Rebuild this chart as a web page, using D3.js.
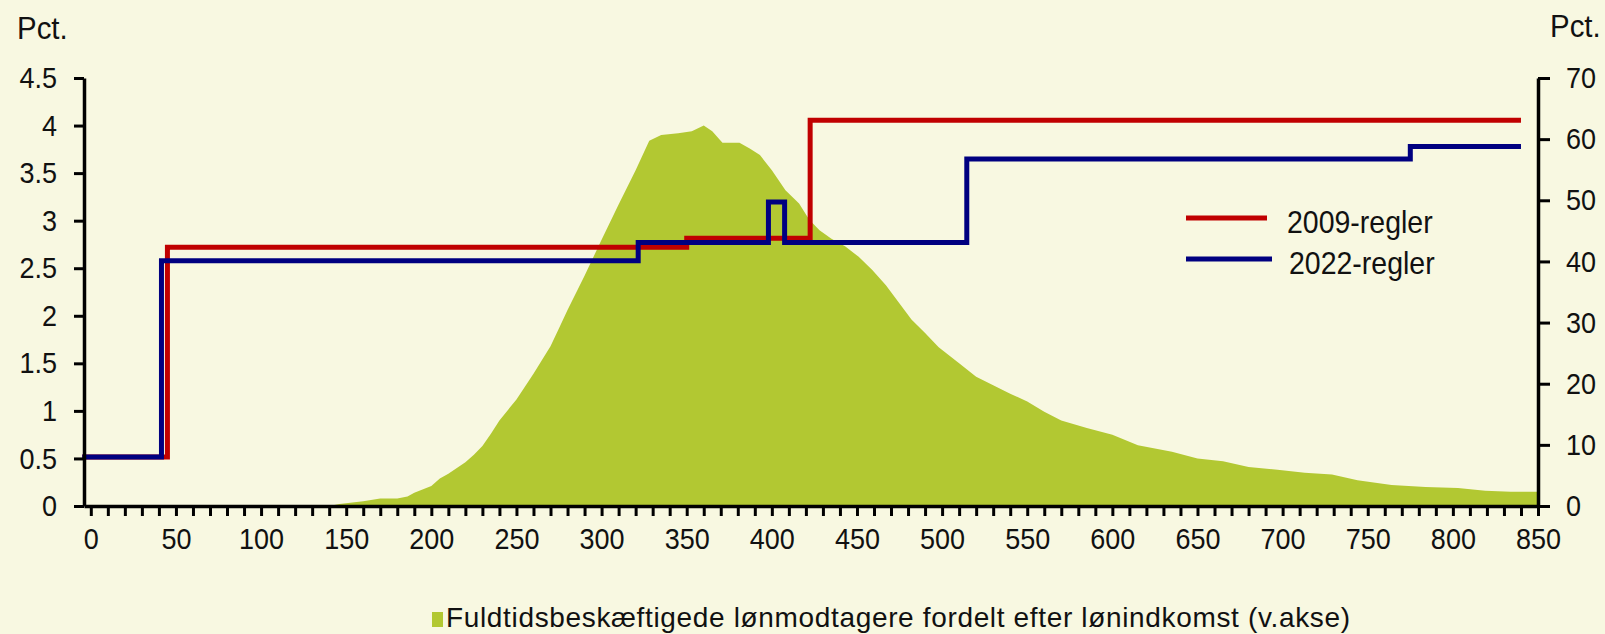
<!DOCTYPE html>
<html>
<head>
<meta charset="utf-8">
<script src="https://cdn.jsdelivr.net/npm/d3@7"></script>
<style>
body { margin: 0; background: #f8f8e1; }
svg { display: block; }
text { font-family: "Liberation Sans", Arial, sans-serif; fill: #111; }
</style>
</head>
<body>
<svg id="viz1"></svg>
<script>
//income (1000 kr.) and share of full-time employees, left axis
var incomeX = [140,146,160,170,180,186,190,200,205,210,220,225,230,235,240,250,260,270,275,280,290,300,310,320,328,335,345,353,360,365,371,381,387,393,400,408,416,422,428,435,443,451,459,467,475,482,490,498,510,520,530,540,550,560,570,585,600,615,635,650,665,680,697,713,729,744,764,784,803,819,834,850]
var share = [0,0.02,0.05,0.08,0.08,0.10,0.14,0.21,0.29,0.34,0.46,0.54,0.63,0.76,0.90,1.12,1.39,1.68,1.87,2.06,2.42,2.80,3.17,3.53,3.84,3.90,3.92,3.94,4.00,3.94,3.82,3.82,3.76,3.69,3.53,3.32,3.18,3.01,2.90,2.81,2.73,2.62,2.48,2.32,2.13,1.96,1.82,1.67,1.50,1.36,1.27,1.18,1.10,0.99,0.90,0.82,0.75,0.64,0.57,0.50,0.47,0.41,0.38,0.35,0.33,0.27,0.22,0.20,0.19,0.16,0.15,0.15]

//marginal rates, right axis (step starts)
var redX = [-5, 45, 350, 422.5, 840]
var redY = [8, 42.3, 43.8, 63.1, 63.1]
var blueX = [-5, 41.5, 321.5, 398, 407.5, 514.5, 775, 840]
var blueY = [8, 40.1, 43.1, 49.7, 43.1, 56.75, 58.8, 58.8]

var leftTicks = [0,0.5,1,1.5,2,2.5,3,3.5,4,4.5]
var rightTicks = [0,10,20,30,40,50,60,70]
var xTicks = d3.range(0, 851, 10)

var width = 1605
var height = 634
var svg = d3.select("#viz1")
	.attr("width", width)
	.attr("height", height)

var x = d3.scaleLinear().domain([-4, 850]).range([84, 1538])
var yL = d3.scaleLinear().domain([0, 4.5]).range([506, 78])
var yR = d3.scaleLinear().domain([0, 70]).range([506, 78])

var areaData = incomeX.map(function(d, i) { return [d, share[i]] })
svg.append("path")
	.datum(areaData)
	.attr("fill", "#b2c832")
	.attr("d", d3.area()
		.x(d => x(d[0]))
		.y0(yL(0))
		.y1(d => yL(d[1])))

var step = d3.line()
	.x(d => x(d[0]))
	.y(d => yR(d[1]))
	.curve(d3.curveStepAfter)

svg.append("path")
	.datum(redX.map(function(d, i) { return [d, redY[i]] }))
	.attr("fill", "none")
	.attr("stroke", "#c00000")
	.attr("stroke-width", 5)
	.attr("d", step)

svg.append("path")
	.datum(blueX.map(function(d, i) { return [d, blueY[i]] }))
	.attr("fill", "none")
	.attr("stroke", "#000080")
	.attr("stroke-width", 5)
	.attr("d", step)

//axes
var gx = svg.append("g")
	.attr("transform", "translate(0,506)")
	.call(d3.axisBottom(x).tickValues(xTicks).tickSize(10).tickSizeOuter(0).tickPadding(12)
		.tickFormat(d => d % 50 == 0 ? d : ""))

var gl = svg.append("g")
	.attr("transform", "translate(84,0)")
	.call(d3.axisLeft(yL).tickValues(leftTicks).tickSize(10).tickSizeOuter(0).tickPadding(20)
		.tickFormat(d => String(d)))

var gr = svg.append("g")
	.attr("transform", "translate(1538,0)")
	.call(d3.axisRight(yR).tickValues(rightTicks).tickSize(12).tickSizeOuter(0).tickPadding(19))

svg.selectAll(".domain").attr("stroke", "#000").attr("stroke-width", 3.5)
svg.selectAll(".tick line").attr("stroke", "#000").attr("stroke-width", 3)
svg.selectAll(".tick text")
	.attr("font-size", 30)
	.attr("font-family", "Liberation Sans, Arial, sans-serif")
	.attr("fill", "#111")
	.attr("transform", "scale(0.9,1)")

//units
svg.append("text").attr("transform", "translate(17,39) scale(0.92,1)")
	.attr("font-size", 32).text("Pct.")
svg.append("text").attr("transform", "translate(1550,37) scale(0.92,1)")
	.attr("font-size", 32).text("Pct.")

//legend for the lines
var legend = [
	{name: "2009-regler", color: "#c00000", x2: 1267, y: 218, ty: 233, tx: 1287},
	{name: "2022-regler", color: "#000080", x2: 1272, y: 259, ty: 274, tx: 1289}
]
legend.forEach(function(l) {
	svg.append("line")
		.attr("x1", 1186).attr("x2", l.x2)
		.attr("y1", l.y).attr("y2", l.y)
		.attr("stroke", l.color).attr("stroke-width", 5)
	svg.append("text")
		.attr("transform", "translate(" + l.tx + "," + l.ty + ") scale(0.89,1)")
		.attr("font-size", 32)
		.text(l.name)
})

//legend for the area
svg.append("rect")
	.attr("x", 432).attr("y", 612)
	.attr("width", 11).attr("height", 15)
	.attr("fill", "#b2c832")
svg.append("text")
	.attr("x", 446).attr("y", 627)
	.attr("font-size", 28)
	.attr("textLength", 904)
	.attr("lengthAdjust", "spacing")
	.text("Fuldtidsbeskæftigede lønmodtagere fordelt efter lønindkomst (v.akse)")
</script>
</body>
</html>
